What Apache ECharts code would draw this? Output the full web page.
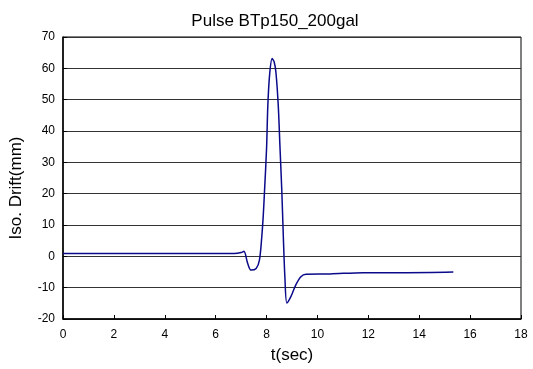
<!DOCTYPE html>
<html>
<head>
<meta charset="utf-8">
<script src="https://cdn.jsdelivr.net/npm/echarts@6/dist/echarts.min.js"></script>
<style>
  html, body { margin: 0; padding: 0; background: #fff; }
  #chart { width: 533px; height: 369px; }
</style>
</head>
<body>
<div id="chart"></div>
<script>
// time (sec) and isolator drift (mm)
const timeSec = [0, 2, 4, 6, 6.73, 7.0, 7.11, 7.26, 7.39, 7.59, 7.72, 7.81, 7.87, 7.92, 8.0, 8.05, 8.12, 8.22, 8.30, 8.37, 8.46, 8.53, 8.60, 8.66, 8.72, 8.80, 8.96, 9.15, 9.35, 9.55, 10.5, 11.8, 13.5, 15.34]
const drift = [0.9, 0.9, 0.9, 0.9, 0.9, 1.2, 1.6, -2.3, -4.4, -3.9, -1.2, 6.0, 13.0, 20.8, 34.4, 48.1, 58.0, 63.1, 62.0, 58.6, 48.1, 34.4, 20.8, 6.1, -6.5, -14.9, -12.8, -9.1, -6.5, -5.7, -5.6, -5.2, -5.2, -5.0]

const titleText = 'Pulse BTp150_200gal'
const xName = 't(sec)'
const yName = 'Iso. Drift(mm)'

const chart = echarts.init(document.getElementById('chart'))

const font = 'Arial, "Liberation Sans", sans-serif'

chart.setOption({
  animation: false,
  backgroundColor: '#fff',
  title: {
    text: titleText,
    left: 270,
    top: 8,
    textAlign: 'center',
    textStyle: { fontFamily: font, fontSize: 17, fontWeight: 'normal', color: '#000' }
  },
  grid: {
    left: 61,
    right: 12,
    top: 37,
    bottom: 46,
    show: true,
    borderColor: '#000',
    borderWidth: 1
  },
  xAxis: {
    type: 'value',
    min: 0,
    max: 18,
    interval: 2,
    name: xName,
    nameLocation: 'middle',
    nameGap: 28,
    nameTextStyle: { fontFamily: font, fontSize: 17, color: '#000' },
    axisLine: { show: true, onZero: false, lineStyle: { color: '#000', width: 1.5 } },
    axisTick: { show: true, inside: true, length: 4, lineStyle: { color: '#000' } },
    axisLabel: { fontFamily: font, fontSize: 12, color: '#000', margin: 10 },
    splitLine: { show: false }
  },
  yAxis: {
    type: 'value',
    min: -20,
    max: 70,
    interval: 10,
    name: yName,
    nameLocation: 'middle',
    nameGap: 38,
    nameTextStyle: { fontFamily: font, fontSize: 17, color: '#000', padding: [0, 20, 0, 0] },
    axisLine: { show: true, onZero: false, lineStyle: { color: '#000', width: 1.5 } },
    axisTick: { show: true, inside: true, length: 4, lineStyle: { color: '#000' } },
    axisLabel: { fontFamily: font, fontSize: 12, color: '#000', margin: 8 },
    splitLine: { show: true, lineStyle: { color: '#333', width: 1 } }
  },
  series: [{
    type: 'line',
    data: timeSec.map((t, i) => [t, drift[i]]),
    smooth: 0.3,
    symbol: 'none',
    lineStyle: { color: '#0a0a8a', width: 1.5 }
  }]
})
</script>
</body>
</html>
